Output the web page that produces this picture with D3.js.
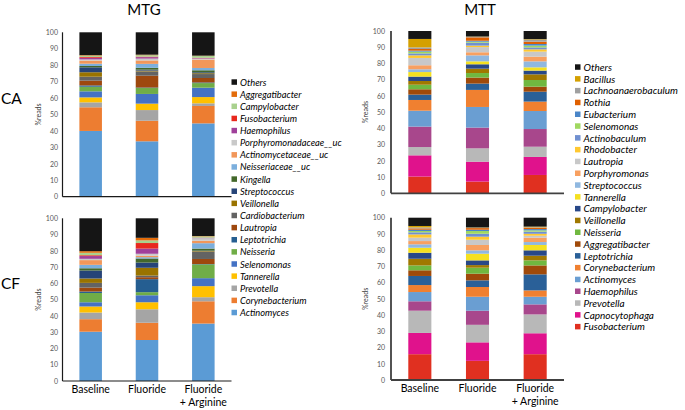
<!DOCTYPE html>
<html><head><meta charset="utf-8">
<script src="https://cdn.jsdelivr.net/npm/d3@7"></script>
<style>
body{margin:0;background:#fff}
svg{display:block}
text{font-family:Lato,"Open Sans",sans-serif}
</style>
</head><body>
<svg id="chart" width="685" height="410"></svg>
<script>
const groups = ["Baseline", "Fluoride", "Fluoride + Arginine"];
const yTicks = [0, 10, 20, 30, 40, 50, 60, 70, 80, 90, 100];

// MTG taxa, stacked bottom -> top
const mtgTaxa = ["Actinomyces","Corynebacterium","Prevotella","Tannerella","Selenomonas","Neisseria","Leptotrichia","Lautropia","Cardiobacterium","Veillonella","Streptococcus","Kingella","Neisseriaceae__uc","Actinomycetaceae__uc","Porphyromonadaceae__uc","Haemophilus","Fusobacterium","Campylobacter","Aggregatibacter","Others"];
const mtgColors = ["#5B9BD5","#ED7D31","#A5A5A5","#FFC000","#4472C4","#70AD47","#255E91","#9E480E","#636363","#997300","#264478","#43682B","#7CAFDD","#F1975A","#C9C9C9","#A0409A","#E8281E","#A9D18E","#E36C0A","#151515"];

const mtgCABaseline = [40.0,14.4,3.0,3.0,3.7,2.8,0.8,2.9,2.4,2.7,3.0,0.8,1.4,1.9,0.7,1.0,0.5,0.8,0.3,13.9];
const mtgCAFluoride = [33.7,12.5,6.5,3.9,5.9,3.6,0.3,7.2,2.6,0.5,0.6,1.1,2.4,2.1,1.1,0.9,0.3,0.9,0.3,13.6];
const mtgCAFluorideArginine = [44.6,10.6,1.6,3.8,5.7,2.8,0.4,2.7,2.4,0.5,0.6,1.2,1.4,5.1,0.6,0.3,0.2,1.1,0.2,14.2];
const mtgCFBaseline = [30.3,7.7,4.1,3.7,2.6,5.7,0.9,2.4,2.9,2.7,4.9,1.4,2.1,2.9,0.8,1.7,0.5,1.5,1.0,20.2];
const mtgCFFluoride = [25.2,10.6,8.3,4.3,4.3,1.9,8.0,1.2,1.0,4.8,3.2,2.5,0.8,0.9,1.2,3.2,3.4,1.6,1.6,12.0];
const mtgCFFluorideArginine = [35.3,13.7,2.5,6.8,4.9,8.5,0.2,3.1,4.6,0.3,0.2,1.3,3.3,1.5,1.6,0.2,0.1,0.8,0.2,10.9];

// MTT taxa, stacked bottom -> top
const mttTaxa = ["Fusobacterium","Capnocytophaga","Prevotella","Haemophilus","Actinomyces","Corynebacterium","Leptotrichia","Aggregatibacter","Neisseria","Veillonella","Campylobacter","Tannerella","Streptococcus","Porphyromonas","Lautropia","Rhodobacter","Actinobaculum","Selenomonas","Eubacterium","Rothia","Lachnoanaerobaculum","Bacillus","Others"];
const mttColors = ["#E03020","#E0128C","#B8B8B8","#A8478C","#6A9ED2","#F08030","#2A6098","#A04A0A","#70B840","#A07800","#284888","#F5E020","#90B8E0","#F8A060","#C8C8C8","#FFC830","#7090D0","#A0D860","#4A86C8","#E06000","#A0A0A0","#D4A000","#151515"];

const mttCABaseline = [10.3,13.1,5.1,12.6,9.8,6.6,3.3,3.3,2.8,2.3,2.7,2.8,1.7,2.5,4.5,1.6,1.2,1.1,0.6,1.0,1.0,5.2,4.9];
const mttCAFluoride = [7.2,12.3,8.2,12.8,12.7,10.5,3.9,3.7,2.8,2.7,2.7,1.8,3.7,1.9,3.2,0.9,1.8,0.6,0.6,2.1,0.3,0.2,3.4];
const mttCAFluorideArginine = [11.3,11.1,6.3,10.9,11.1,5.8,6.1,3.1,4.1,3.5,2.3,2.0,3.7,2.9,3.1,1.4,1.2,1.1,1.0,1.4,1.3,0.3,5.0];
const mttCFBaseline = [15.9,13.1,13.7,5.8,5.7,4.3,5.6,3.5,3.0,4.1,3.7,3.1,2.1,2.0,2.1,2.0,1.3,0.8,0.8,0.8,0.6,0.9,5.1];
const mttCFFluoride = [11.8,11.4,10.8,8.7,8.6,6.0,4.1,4.1,3.7,1.6,2.9,4.1,2.1,3.3,3.2,1.9,1.8,1.7,0.8,1.0,0.2,0.2,6.0];
const mttCFFluorideArginine = [15.9,12.9,11.6,6.2,4.7,3.9,9.9,5.5,3.1,2.9,3.3,3.3,1.8,2.7,1.2,1.2,1.3,0.8,0.8,0.8,0.3,0.4,5.5];

const svg = d3.select("#chart");

function drawPanel(p) {
  const x = d3.scaleBand().domain(groups).range([p.left, p.right]).paddingInner(0.6).paddingOuter(0.3);
  const y = d3.scaleLinear().domain([0, 100]).range([p.y0, p.y100]);
  const rows = groups.map((g, i) => {
    const o = {group: g};
    p.taxa.forEach((t, j) => { o[t] = p.values[i][j]; });
    return o;
  });
  const series = d3.stack().keys(p.taxa)(rows);
  const g = svg.append("g");
  g.selectAll("g.layer").data(series).join("g")
    .attr("fill", (d, i) => p.colors[i])
    .selectAll("rect").data(d => d).join("rect")
    .attr("x", d => x(d.data.group))
    .attr("width", x.bandwidth())
    .attr("y", d => y(d[1]))
    .attr("height", d => Math.max(0, y(d[0]) - y(d[1])));

  const ya = g.append("g").attr("transform", `translate(${p.left},0)`)
    .call(d3.axisLeft(y).tickValues(yTicks).tickSize(0).tickPadding(p.tickPad));
  ya.select(".domain").remove();
  ya.selectAll("text").attr("font-size", 7).attr("fill", "#595959").attr("font-family", "Lato, sans-serif");
  g.append("line").attr("x1", p.left).attr("x2", p.left).attr("y1", p.y0).attr("y2", p.y100)
    .attr("stroke", p.axisColor).attr("stroke-width", p.axisW);

  const xa = g.append("g").attr("transform", `translate(0,${p.y0})`)
    .call(d3.axisBottom(x).tickSize(0).tickPadding(5).tickFormat(d => p.showLabels ? d : ""));
  xa.select(".domain").remove();
  xa.selectAll("text").attr("font-size", 10.5).attr("fill", "#000").attr("font-family", "Lato, sans-serif")
    .each(function(d) {
      if (!p.showLabels) return;
      const t = d3.select(this);
      const parts = d.split(" + ");
      if (parts.length > 1) {
        t.text(null);
        t.append("tspan").attr("x", 0).attr("dy", "0.71em").text(parts[0]);
        t.append("tspan").attr("x", 0).attr("dy", "1.15em").text("+ " + parts[1]);
        t.attr("dy", null);
      }
    });
  g.append("line").attr("x1", p.left).attr("x2", p.right).attr("y1", p.y0).attr("y2", p.y0)
    .attr("stroke", p.axisColor).attr("stroke-width", p.axisW);

  g.append("text").attr("transform", `translate(${p.readsX},${(p.y0 + p.y100) / 2}) rotate(-90)`)
    .attr("text-anchor", "middle").attr("font-size", 7).attr("fill", "#404040").text("%reads");
}

function drawLegend(taxa, colors, lx, ly, step, fs) {
  const items = taxa.map((t, i) => ({t, c: colors[i]})).reverse();
  const g = svg.append("g");
  const it = g.selectAll("g").data(items).join("g")
    .attr("transform", (d, i) => `translate(${lx},${ly + i * step})`);
  it.append("rect").attr("x", 0).attr("y", -3).attr("width", 5.5).attr("height", 5.5).attr("fill", d => d.c);
  it.append("text").attr("x", 8.5).attr("y", 0).attr("dy", "0.35em").attr("font-size", fs)
    .attr("font-style", "italic").attr("fill", "#000").text(d => d.t);
}

const mtgL = 62.5, mtgR = 231.5, mttL = 391, mttR = 564;
drawPanel({left: mtgL, right: mtgR, y0: 196.7, y100: 32.3, taxa: mtgTaxa, colors: mtgColors,
  values: [mtgCABaseline, mtgCAFluoride, mtgCAFluorideArginine], showLabels: false, tickPad: 4.5,
  axisColor: "#1a1a1a", axisW: 1.2, readsX: 41});
drawPanel({left: mtgL, right: mtgR, y0: 381, y100: 218.3, taxa: mtgTaxa, colors: mtgColors,
  values: [mtgCFBaseline, mtgCFFluoride, mtgCFFluorideArginine], showLabels: true, tickPad: 4.5,
  axisColor: "#1a1a1a", axisW: 1.2, readsX: 41});
drawPanel({left: mttL, right: mttR, y0: 193.3, y100: 31, taxa: mttTaxa, colors: mttColors,
  values: [mttCABaseline, mttCAFluoride, mttCAFluorideArginine], showLabels: false, tickPad: 6,
  axisColor: "#404040", axisW: 1.8, readsX: 368});
drawPanel({left: mttL, right: mttR, y0: 380, y100: 217.7, taxa: mttTaxa, colors: mttColors,
  values: [mttCFBaseline, mttCFFluoride, mttCFFluorideArginine], showLabels: true, tickPad: 6,
  axisColor: "#404040", axisW: 1.8, readsX: 368});

drawLegend(mtgTaxa, mtgColors, 231.5, 82.3, 12.13, 9.3);
drawLegend(mttTaxa, mttColors, 575, 67.3, 11.8, 10);

svg.append("text").attr("x", 144).attr("y", 15).attr("text-anchor", "middle").attr("font-size", 15).attr("fill", "#000").text("MTG");
svg.append("text").attr("x", 480).attr("y", 15).attr("text-anchor", "middle").attr("font-size", 15).attr("fill", "#000").text("MTT");
svg.append("text").attr("x", 1).attr("y", 104).attr("font-size", 15.5).attr("fill", "#000").text("CA");
svg.append("text").attr("x", 1).attr("y", 289).attr("font-size", 15.5).attr("fill", "#000").text("CF");
</script>
</body></html>
